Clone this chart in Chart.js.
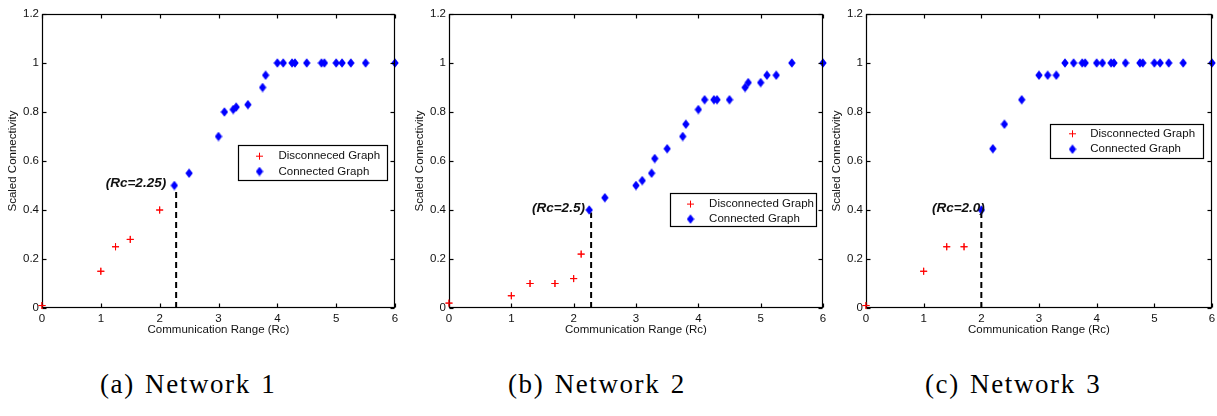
<!DOCTYPE html>
<html><head><meta charset="utf-8">
<script src="https://cdn.jsdelivr.net/npm/chart.js@4.4.1/dist/chart.umd.min.js"></script>
<style>
html,body{margin:0;padding:0;background:#fff}
body{width:1217px;height:416px;overflow:hidden;position:relative}
canvas.p{position:absolute;top:0}
.cap{position:absolute;top:369px;font-family:"Liberation Serif","DejaVu Serif",serif;font-size:27px;letter-spacing:1.6px;word-spacing:2px;color:#000;white-space:nowrap}
</style></head>
<body>
<canvas class="p" id="c1" width="405" height="345" style="left:0px"></canvas>
<canvas class="p" id="c2" width="426" height="345" style="left:407px"></canvas>
<canvas class="p" id="c3" width="393" height="345" style="left:824px"></canvas>
<div class="cap" style="left:100px">(a) Network 1</div>
<div class="cap" style="left:508px">(b) Network 2</div>
<div class="cap" style="left:925px">(c) Network 3</div>
<script>
// ---- data ----
const xTicks = [0, 1, 2, 3, 4, 5, 6];
const xTickLabels = ['0', '1', '2', '3', '4', '5', '6'];
const yTicks = [0, 0.2, 0.4, 0.6, 0.8, 1, 1.2];
const yTickLabels = ['0', '0.2', '0.4', '0.6', '0.8', '1', '1.2'];
const xTitle = 'Communication Range (Rc)';
const yTitle = 'Scaled Connectivity';

const n1DiscX = [0, 1, 1.25, 1.5, 2];
const n1DiscY = [0.01, 0.15, 0.25, 0.28, 0.4];
const n1ConnX = [2.25, 2.5, 3, 3.1, 3.25, 3.3, 3.5, 3.75, 3.8, 4, 4.1, 4.25, 4.3, 4.5, 4.75, 4.8, 5, 5.1, 5.25, 5.5, 6];
const n1ConnY = [0.5, 0.55, 0.7, 0.8, 0.81, 0.82, 0.83, 0.9, 0.95, 1, 1, 1, 1, 1, 1, 1, 1, 1, 1, 1, 1];
const n1Legend = ['Disconneced Graph', 'Connected Graph'];
const n1RcX = 2.28, n1RcTop = 0.49;
const n1RcLabel = '(Rc=2.25)', n1RcLabelX = 2.11, n1RcLabelY = 0.51;

const n2DiscX = [0, 1, 1.3, 1.7, 2, 2.12];
const n2DiscY = [0.02, 0.05, 0.1, 0.1, 0.12, 0.22];
const n2ConnX = [2.25, 2.5, 3, 3.1, 3.25, 3.3, 3.5, 3.75, 3.8, 4, 4.1, 4.25, 4.3, 4.5, 4.75, 4.8, 5, 5.1, 5.25, 5.5, 6];
const n2ConnY = [0.4, 0.45, 0.5, 0.52, 0.55, 0.61, 0.65, 0.7, 0.75, 0.81, 0.85, 0.85, 0.85, 0.85, 0.9, 0.92, 0.92, 0.95, 0.95, 1, 1];
const n2Legend = ['Disconnected Graph', 'Connected Graph'];
const n2RcX = 2.28, n2RcTop = 0.39;
const n2RcLabel = '(Rc=2.5)', n2RcLabelX = 2.18, n2RcLabelY = 0.408;

const n3DiscX = [0, 1, 1.4, 1.7];
const n3DiscY = [0.01, 0.15, 0.25, 0.25];
const n3ConnX = [2, 2.2, 2.4, 2.7, 3, 3.15, 3.3, 3.45, 3.6, 3.75, 3.8, 4, 4.1, 4.25, 4.3, 4.5, 4.75, 4.8, 5, 5.1, 5.25, 5.5, 6];
const n3ConnY = [0.4, 0.65, 0.75, 0.85, 0.95, 0.95, 0.95, 1, 1, 1, 1, 1, 1, 1, 1, 1, 1, 1, 1, 1, 1, 1, 1];
const n3Legend = ['Disconnected Graph', 'Connected Graph'];
const n3RcX = 2.0, n3RcTop = 0.39;
const n3RcLabel = '(Rc=2.0)', n3RcLabelX = 2.06, n3RcLabelY = 0.408;

// ---- styling helpers ----
const FONT = '"Liberation Sans", Arial, Helvetica, sans-serif';
function diamond() {
  const c = document.createElement('canvas');
  c.width = 8; c.height = 10;
  const g = c.getContext('2d');
  g.fillStyle = '#0000ff';
  g.beginPath();
  g.moveTo(4, 0.3); g.lineTo(7.7, 5); g.lineTo(4, 9.7); g.lineTo(0.3, 5);
  g.closePath(); g.fill();
  return c;
}
const DIAMOND = diamond();
const pts = (xs, ys) => xs.map((x, i) => ({x: x, y: ys[i]}));
const extras = {};

const annotPlugin = {
  id: 'annot',
  afterDraw(chart) {
    const opts = extras[chart.canvas.id];
    const a = chart.chartArea, g = chart.ctx;
    const xs = chart.scales.x, ys = chart.scales.y;
    g.save();
    // axes box with inward tick marks (same drawing path as the legend box)
    const L = Math.round(a.left) + 0.5, T = Math.round(a.top) + 0.5;
    const R = Math.round(a.right) - 0.5, B = Math.round(a.bottom) - 0.5;
    g.strokeStyle = '#000'; g.lineWidth = 1.2;
    g.strokeRect(L, T, R - L, B - T);
    const tl = 4;
    xTicks.forEach(v => {
      const p = Math.round(xs.getPixelForValue(v)) + 0.5;
      g.beginPath(); g.moveTo(p, B); g.lineTo(p, B - tl); g.stroke();
      g.beginPath(); g.moveTo(p, T); g.lineTo(p, T + tl); g.stroke();
    });
    yTicks.forEach(v => {
      const p = Math.round(ys.getPixelForValue(v)) + 0.5;
      g.beginPath(); g.moveTo(L, p); g.lineTo(L + tl, p); g.stroke();
      g.beginPath(); g.moveTo(R, p); g.lineTo(R - tl, p); g.stroke();
    });
    g.restore();
    // keep the red markers above the axes box
    chart.getDatasetMeta(0).controller.draw();
    g.save();
    g.font = 'italic bold 13.5px ' + FONT;
    g.fillStyle = '#111';
    g.textAlign = 'right'; g.textBaseline = 'middle';
    g.fillText(opts.rcLabel, xs.getPixelForValue(opts.rcLabelX), ys.getPixelForValue(opts.rcLabelY));
    const Lg = opts.legend;
    const bx = Math.round(a.left + Lg.x) + 0.5, by = Math.round(a.top + Lg.y) + 0.5;
    g.fillStyle = '#fff';
    g.fillRect(bx, by, Lg.w, Lg.h);
    g.strokeStyle = '#000'; g.lineWidth = 1.2;
    g.strokeRect(bx, by, Lg.w, Lg.h);
    g.font = '11.5px ' + FONT;
    g.textAlign = 'left';
    opts.labels.forEach((t, i) => {
      const ry = by + Lg.r0 + i * Lg.dr;
      const mx = bx + Lg.mx;
      if (i === 0) {
        g.strokeStyle = '#ff0000'; g.lineWidth = 1;
        g.beginPath();
        g.moveTo(mx - 3.5, ry); g.lineTo(mx + 3.5, ry);
        g.moveTo(mx, ry - 3.5); g.lineTo(mx, ry + 3.5);
        g.stroke();
      } else {
        g.drawImage(DIAMOND, mx - 4, ry - 5);
      }
      g.fillStyle = '#111';
      g.fillText(t, bx + Lg.tx, ry);
    });
    g.restore();
  }
};

function makeChart(id, discX, discY, connX, connY, rcX, rcTop, labels, rcLabel, rcLabelX, rcLabelY, legend, padRight) {
  extras[id] = { rcLabel: rcLabel, rcLabelX: rcLabelX, rcLabelY: rcLabelY, legend: legend, labels: labels };
  return new Chart(document.getElementById(id), {
    type: 'scatter',
    data: {
      datasets: [
        { label: labels[0], data: pts(discX, discY), pointStyle: 'cross', pointRadius: 3.5, pointHoverRadius: 3.5,
          borderColor: '#ff0000', backgroundColor: '#ff0000', pointBorderWidth: 1, clip: false },
        { label: labels[1], data: pts(connX, connY), pointStyle: DIAMOND, pointRadius: 4,
          borderColor: '#0000ff', backgroundColor: '#0000ff', clip: false },
        { type: 'line', label: 'rc', data: [{x: rcX, y: 0}, {x: rcX, y: rcTop}], borderColor: '#000',
          borderWidth: 2, borderDash: [6, 4], pointRadius: 0, fill: false, clip: false }
      ]
    },
    options: {
      responsive: false, animation: false, events: [],
      layout: { padding: { left: 0, top: 14, right: padRight, bottom: 0 } },
      plugins: { legend: { display: false }, tooltip: { enabled: false } },
      scales: {
        x: {
          type: 'linear', min: 0, max: 6,
          afterBuildTicks: s => { s.ticks = xTicks.map(v => ({value: v})); },
          afterFit: s => { s.height = 37; s.paddingLeft = 0; s.paddingRight = 0; },
          grid: { display: false, drawTicks: false },
          border: { display: false },
          ticks: { padding: 4, color: '#111', font: { family: FONT, size: 11.5 }, maxRotation: 0,
                   callback: (v) => xTickLabels[xTicks.indexOf(v)] },
          title: { display: true, text: xTitle, color: '#111', font: { family: FONT, size: 11.5 }, padding: { top: 0, bottom: 8 } }
        },
        y: {
          type: 'linear', min: 0, max: 1.2,
          afterBuildTicks: s => { s.ticks = yTicks.map(v => ({value: v})); },
          afterFit: s => { s.width = 42; s.paddingTop = 0; s.paddingBottom = 0; },
          grid: { display: false, drawTicks: false },
          border: { display: false },
          ticks: { padding: 3, color: '#111', font: { family: FONT, size: 11.5 },
                   callback: (v) => yTickLabels[yTicks.indexOf(v)] },
          title: { display: true, text: yTitle, color: '#111', font: { family: FONT, size: 11.5 }, padding: { top: 6, bottom: 0 } }
        }
      }
    },
    plugins: [annotPlugin]
  });
}

makeChart('c1', n1DiscX, n1DiscY, n1ConnX, n1ConnY, n1RcX, n1RcTop, n1Legend, n1RcLabel, n1RcLabelX, n1RcLabelY,
  { x: 196, y: 131, w: 149, h: 35, mx: 21, tx: 40, r0: 10.7, dr: 15.3 }, 10);
makeChart('c2', n2DiscX, n2DiscY, n2ConnX, n2ConnY, n2RcX, n2RcTop, n2Legend, n2RcLabel, n2RcLabelX, n2RcLabelY,
  { x: 221, y: 179, w: 146, h: 33, mx: 20, tx: 38.6, r0: 10.6, dr: 15 }, 10);
makeChart('c3', n3DiscX, n3DiscY, n3ConnX, n3ConnY, n3RcX, n3RcTop, n3Legend, n3RcLabel, n3RcLabelX, n3RcLabelY,
  { x: 184, y: 110, w: 153, h: 34, mx: 22, tx: 39.7, r0: 9.3, dr: 15.4 }, 1);
</script>
</body></html>
